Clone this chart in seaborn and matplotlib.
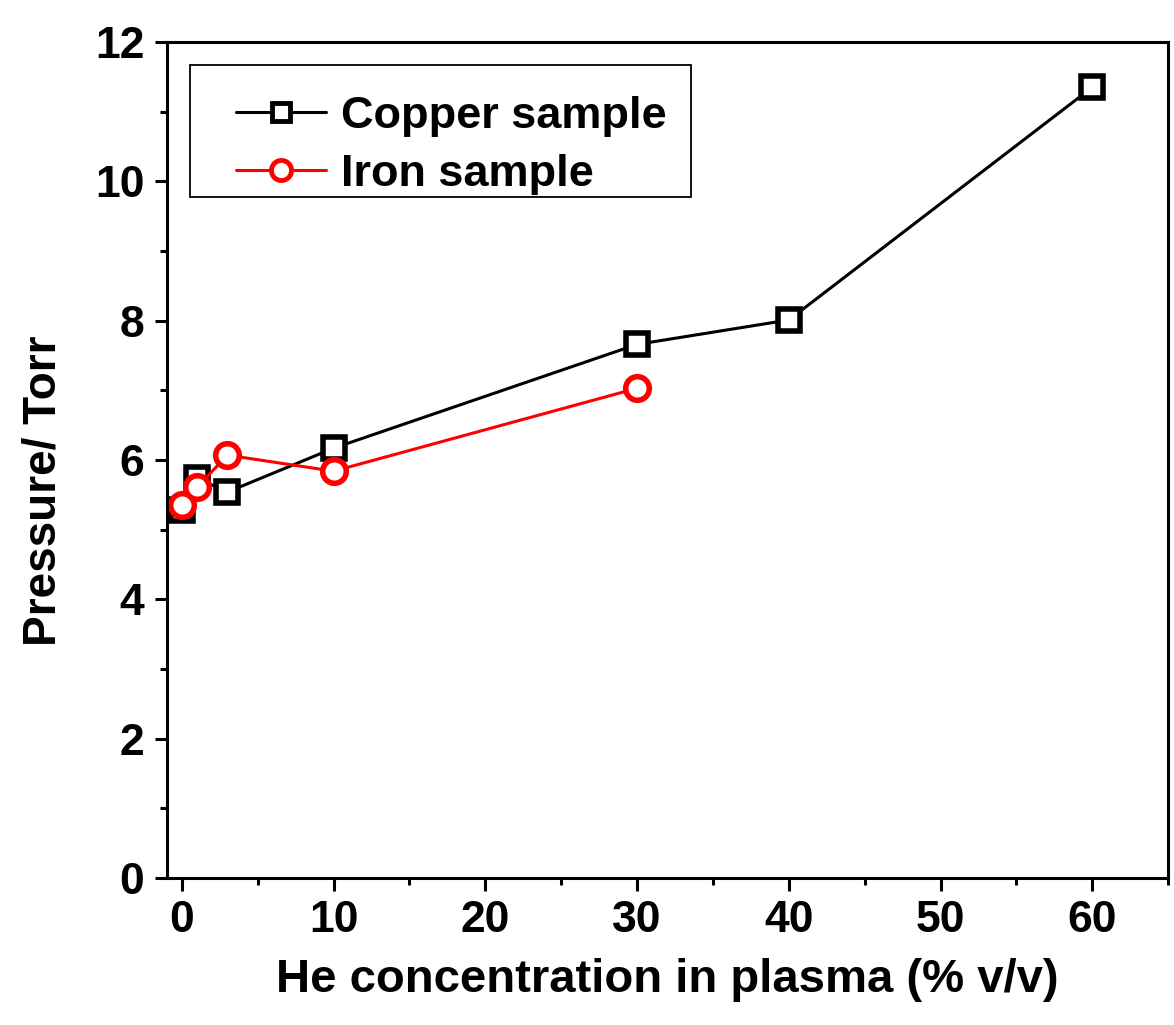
import matplotlib
matplotlib.use("Agg")
import matplotlib.pyplot as plt
import seaborn as sns
import pandas as pd
from matplotlib.ticker import MultipleLocator
from matplotlib.patches import Rectangle

sns.set_style("ticks")
plt.rcParams['font.family'] = ['Liberation Sans', 'DejaVu Sans']
plt.rcParams['font.weight'] = 'bold'
plt.rcParams['text.color'] = 'black'
plt.rcParams['axes.labelcolor'] = 'black'
plt.rcParams['xtick.color'] = 'black'
plt.rcParams['ytick.color'] = 'black'

copper_x = [0, 1, 3, 10, 30, 40, 60]
copper_y = [5.28, 5.74, 5.54, 6.17, 7.66, 8.01, 11.35]
iron_x = [0, 1, 3, 10, 30]
iron_y = [5.35, 5.61, 6.07, 5.84, 7.03]

df_cu = pd.DataFrame({"x": copper_x, "y": copper_y})
df_fe = pd.DataFrame({"x": iron_x, "y": iron_y})

fig = plt.figure(figsize=(11.74, 10.25), dpi=100)
ax = fig.add_axes([0.142, 0.1434, 0.853, 0.8156])

sns.lineplot(data=df_cu, x="x", y="y", ax=ax, color="black", lw=2.2,
             marker="s", markersize=16, markerfacecolor="white",
             markeredgecolor="black", markeredgewidth=4, label="Copper sample")
sns.lineplot(data=df_fe, x="x", y="y", ax=ax, color="red", lw=2.2,
             marker="o", markersize=17, markerfacecolor="white",
             markeredgecolor="red", markeredgewidth=4, label="Iron sample")

ax.set_xlim(-1, 65)
ax.set_ylim(0, 12)
ax.xaxis.set_major_locator(MultipleLocator(10))
ax.xaxis.set_minor_locator(MultipleLocator(5))
ax.yaxis.set_major_locator(MultipleLocator(2))
ax.yaxis.set_minor_locator(MultipleLocator(1))

for s in ax.spines.values():
    s.set_linewidth(2.2)
    s.set_color("black")
ax.tick_params(which="major", direction="out", length=9, width=2.2, labelsize=32,
               pad=7, colors="black")
ax.tick_params(which="minor", direction="out", length=5, width=2.2, colors="black")
for lab in ax.get_xticklabels() + ax.get_yticklabels():
    lab.set_fontweight("bold")

ax.set_xlabel("He concentration in plasma (% v/v)", fontsize=34, fontweight="bold",
              labelpad=12, color="black")
ax.set_ylabel("Pressure/ Torr", fontsize=33, fontweight="bold", labelpad=21, color="black")
ax.yaxis.label.set_y(0.463)

leg = ax.legend(loc="upper left", bbox_to_anchor=(0.069, 0.936), fontsize=32.5,
                frameon=False, markerscale=0.85,
                handlelength=2.0, borderpad=0, labelspacing=0.38, handletextpad=0.33,
                borderaxespad=0)
for t in leg.get_texts():
    t.set_fontweight("bold")
    t.set_color("black")
for h in leg.legend_handles:
    h.set_markeredgewidth(3.5)

ax.add_patch(Rectangle((0.023, 0.8146), 0.5005, 0.158, transform=ax.transAxes,
                       fill=False, edgecolor="black", linewidth=1.3, zorder=6))

fig.savefig("out.png", dpi=100)
